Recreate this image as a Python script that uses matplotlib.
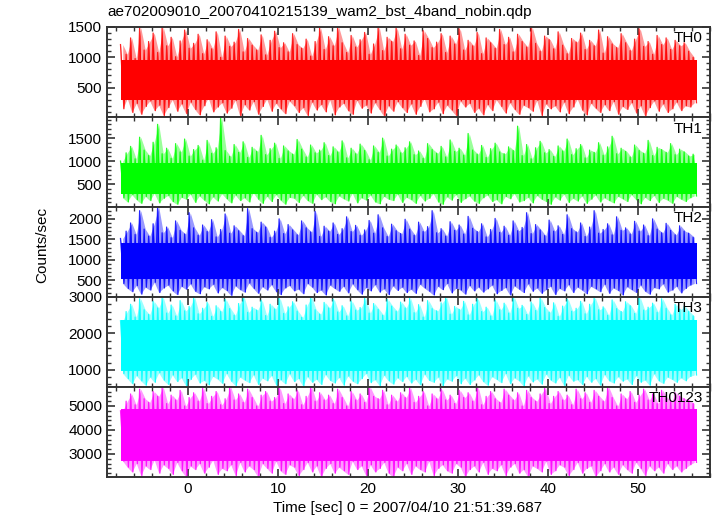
import numpy as np
from matplotlib import pyplot as plt
from matplotlib.ticker import MultipleLocator

plt.rcParams['font.family'] = ['Liberation Sans', 'DejaVu Sans']
plt.rcParams['font.size'] = 11

# half-second bins, centres from -7.25 to 56.25 s
t = np.arange(-7.25, 56.5, 0.5)

# peak (hi) and dip (lo) rate read per bin, counts/sec
th0_hi = [1210, 1050, 1320, 980, 1490, 1120, 1260, 1400, 1080, 1500, 1190, 1330, 1010, 1270, 1450, 1150,
          1230, 1380, 1060, 1290, 1140, 1420, 1000, 1350, 1180, 1250, 1460, 1090, 1310, 1200, 1120, 1370,
          1040, 1280, 1430, 1160, 1240, 1090, 1390, 1210, 1150, 1300, 1020, 1260, 1480, 1130, 1340, 1190,
          1500, 1240, 1080, 1360, 1170, 1290, 1410, 1050, 1220, 1500, 1110, 1330, 1260, 1480, 1140, 1380,
          1200, 1270, 1030, 1440, 1310, 1160, 1250, 1390, 1080, 1350, 1220, 1470, 1120, 1280, 1190, 1410,
          1060, 1320, 1240, 1150, 1460, 1210, 1330, 1090, 1380, 1260, 1170, 1500, 1230, 1100, 1350, 1290,
          1140, 1420, 1200, 1060, 1310, 1250, 1400, 1130, 1280, 1190, 1450, 1070, 1340, 1220, 1160, 1390,
          1240, 1110, 1300, 1470, 1180, 1260, 1050, 1360, 1210, 1320, 1130, 1280, 1190, 1240, 1100, 1000]
th0_lo = [150, 320, 90, 240, 60, 190, 280, 120, 210, 40, 170, 300, 110, 230, 70, 260,
          140, 50, 200, 330, 100, 180, 250, 80, 160, 290, 30, 220, 130, 270, 60, 190,
          310, 110, 240, 150, 70, 280, 200, 90, 170, 40, 260, 130, 220, 100, 300, 50,
          180, 240, 120, 60, 290, 160, 210, 80, 250, 140, 30, 200, 110, 270, 170, 90,
          230, 60, 190, 320, 100, 150, 260, 70, 210, 130, 40, 280, 180, 240, 90, 160,
          50, 220, 120, 300, 190, 80, 250, 140, 60, 210, 170, 110, 290, 40, 230, 150,
          200, 100, 260, 70, 180, 310, 130, 50, 240, 160, 90, 220, 120, 270, 60, 190,
          140, 250, 80, 200, 30, 170, 280, 110, 230, 90, 150, 260, 120, 200, 180, 250]

th1_hi = [1000, 1180, 1320, 1050, 1520, 1240, 1120, 1410, 1800, 1160, 1280, 1060, 1380, 1200, 1480, 1110,
          1250, 1340, 1020, 1450, 1170, 1290, 1950, 1230, 1100, 1360, 1190, 1420, 1080, 1300, 1210, 1560,
          1140, 1270, 1390, 1060, 1330, 1220, 1150, 1470, 1260, 1090, 1350, 1180, 1240, 1400, 1120, 1310,
          1200, 1440, 1070, 1280, 1160, 1370, 1230, 1030, 1330, 1190, 1500, 1110, 1260, 1350, 1180, 1290,
          1420, 1140, 1220, 1060, 1380, 1250, 1170, 1320, 1090, 1460, 1210, 1280, 1130, 1600, 1240, 1150,
          1340, 1080, 1270, 1390, 1200, 1160, 1310, 1230, 1760, 1120, 1360, 1050, 1290, 1430, 1180, 1250,
          1100, 1330, 1220, 1480, 1140, 1270, 1360, 1070, 1240, 1190, 1400, 1130, 1310, 1540, 1160, 1280,
          1210, 1090, 1350, 1230, 1170, 1450, 1120, 1300, 1250, 1190, 1380, 1140, 1260, 1200, 1110, 1150]
th1_lo = [200, 110, 270, 160, 80, 230, 140, 300, 90, 190, 250, 120, 60, 210, 170, 280,
          100, 240, 150, 70, 220, 130, 290, 180, 90, 260, 140, 200, 110, 310, 170, 80,
          230, 120, 270, 150, 60, 210, 190, 100, 250, 140, 80, 280, 160, 220, 120, 70,
          240, 180, 130, 300, 90, 200, 150, 260, 110, 70, 230, 170, 140, 280, 100, 210,
          160, 80, 250, 130, 190, 290, 110, 60, 220, 150, 270, 100, 180, 240, 130, 80,
          200, 260, 120, 160, 70, 230, 180, 290, 110, 140, 210, 90, 250, 170, 120, 60,
          220, 150, 280, 100, 190, 130, 240, 80, 170, 260, 110, 200, 140, 90, 230, 180,
          120, 270, 160, 70, 210, 140, 250, 100, 190, 150, 80, 230, 170, 120, 200, 240]

th2_hi = [1520, 1700, 1900, 1620, 2200, 1750, 1580, 1880, 2290, 1660, 1800, 1540, 1950, 1720, 1630, 2150,
          1780, 1600, 1850, 1690, 1980, 1560, 1740, 2120, 1650, 1830, 1710, 1590, 2250, 1760, 1670, 1920,
          1800, 1550, 1700, 2000, 1640, 1860, 1730, 1610, 1950, 1780, 1680, 2180, 1570, 1820, 1700, 1900,
          1620, 1760, 2050, 1690, 1840, 1600, 1730, 1960, 1650, 2100, 1780, 1570, 1870, 1710, 1640, 1990,
          1750, 1600, 1920, 1690, 1810, 2200, 1660, 1760, 1580, 1930, 1720, 1850, 1630, 2060, 1770, 1690,
          1880, 1560, 1740, 2010, 1670, 1820, 1600, 1950, 1710, 1790, 2150, 1640, 1860, 1730, 1590, 1970,
          1700, 1830, 1620, 2100, 1760, 1680, 1900, 1570, 1800, 2200, 1650, 1740, 1880, 1610, 2050, 1720,
          1780, 1630, 1940, 1700, 1850, 1590, 2000, 1750, 1660, 1890, 1720, 1610, 1830, 1700, 1650, 1550]
th2_lo = [420, 300, 220, 370, 160, 330, 260, 450, 200, 310, 380, 240, 150, 350, 280, 410,
          230, 170, 340, 290, 400, 190, 320, 250, 130, 360, 270, 210, 430, 300, 180, 340,
          260, 390, 220, 150, 310, 370, 240, 280, 170, 420, 330, 200, 260, 140, 380, 300,
          230, 350, 190, 410, 270, 160, 320, 240, 390, 210, 290, 150, 360, 250, 330, 200,
          280, 180, 400, 310, 230, 140, 350, 270, 420, 190, 300, 260, 160, 370, 240, 330,
          210, 290, 380, 170, 250, 320, 140, 360, 280, 200, 410, 230, 310, 180, 270, 350,
          150, 300, 240, 390, 200, 330, 260, 170, 350, 290, 220, 400, 180, 310, 250, 140,
          340, 270, 200, 380, 230, 160, 320, 290, 410, 210, 260, 350, 190, 300, 380, 420]

th3_hi = [2350, 2600, 2800, 2450, 2950, 2650, 2520, 2880, 2700, 3000, 2560, 2780, 2480, 2900, 2620, 2740,
          2990, 2540, 2690, 2850, 2470, 2760, 2600, 2930, 2680, 2500, 2820, 3000, 2580, 2720, 2640, 2910,
          2490, 2800, 2670, 2960, 2550, 2730, 2870, 2610, 2440, 2780, 3000, 2650, 2530, 2850, 2700, 2940,
          2590, 2760, 2480, 2890, 2640, 2710, 2980, 2560, 2820, 2660, 2500, 2930, 2750, 2610, 2860, 2700,
          2960, 2570, 2790, 2450, 2900, 2680, 2620, 2840, 2990, 2530, 2740, 2660, 2880, 2510, 2800, 2950,
          2600, 2720, 2480, 2910, 2650, 2830, 2560, 3000, 2690, 2770, 2520, 2860, 2630, 2970, 2710, 2580,
          2840, 2470, 2750, 2940, 2610, 2690, 2880, 2540, 2800, 2980, 2650, 2730, 2500, 2920, 2680, 2600,
          2870, 2760, 2550, 2990, 2640, 2720, 2830, 2580, 2950, 2690, 2510, 2800, 2660, 2740, 2600, 2480]
th3_lo = [900, 760, 620, 840, 700, 580, 800, 660, 920, 720, 600, 860, 680, 780, 560, 740,
          880, 640, 710, 590, 820, 750, 630, 900, 690, 570, 800, 720, 650, 860, 600, 770,
          700, 840, 580, 730, 620, 890, 680, 760, 560, 810, 660, 740, 600, 870, 710, 640,
          790, 580, 830, 690, 620, 760, 900, 650, 730, 570, 850, 700, 610, 780, 680, 820,
          640, 740, 590, 880, 710, 660, 800, 560, 750, 690, 840, 620, 770, 600, 720, 860,
          680, 580, 810, 740, 650, 900, 620, 780, 700, 560, 830, 670, 750, 610, 880, 720,
          640, 790, 570, 850, 690, 730, 600, 820, 660, 760, 580, 870, 700, 640, 810, 690,
          750, 600, 840, 660, 720, 580, 890, 700, 630, 800, 740, 660, 780, 700, 820, 860]

th0123_hi = [4800, 5200, 5500, 5050, 5700, 5300, 5150, 5600, 5400, 5790, 5100, 5450, 5250, 5650, 5000, 5350,
             5550, 5200, 5750, 5100, 5400, 5600, 5050, 5300, 5790, 5250, 5500, 5150, 5700, 5350, 5000, 5450,
             5600, 5200, 5350, 5750, 5100, 5500, 5300, 5650, 5050, 5400, 5790, 5200, 5550, 5250, 5450, 5100,
             5700, 5350, 5000, 5600, 5250, 5500, 5150, 5790, 5400, 5300, 5650, 5050, 5450, 5200, 5550, 5350,
             5750, 5150, 5400, 5600, 5000, 5500, 5300, 5700, 5250, 5450, 5100, 5650, 5350, 5550, 5200, 5790,
             5050, 5400, 5600, 5300, 5150, 5700, 5450, 5250, 5550, 5000, 5650, 5350, 5200, 5500, 5750, 5100,
             5400, 5600, 5250, 5450, 5050, 5700, 5300, 5550, 5150, 5650, 5400, 5200, 5790, 5350, 5000, 5500,
             5300, 5600, 5150, 5450, 5700, 5250, 5500, 5100, 5650, 5350, 5200, 5550, 5400, 5300, 5250, 5100]
th0123_lo = [2700, 2450, 2250, 2600, 2100, 2500, 2350, 2750, 2200, 2550, 2400, 2150, 2650, 2300, 2050, 2500,
             2350, 2600, 2200, 2450, 2750, 2150, 2400, 2300, 2550, 2100, 2650, 2250, 2500, 2350, 2050, 2600,
             2400, 2200, 2700, 2300, 2150, 2550, 2450, 2100, 2350, 2650, 2250, 2500, 2050, 2400, 2600, 2200,
             2450, 2300, 2150, 2700, 2350, 2500, 2100, 2550, 2250, 2400, 2650, 2200, 2050, 2450, 2300, 2600,
             2150, 2500, 2350, 2250, 2700, 2100, 2400, 2550, 2300, 2200, 2600, 2450, 2050, 2350, 2500, 2250,
             2650, 2150, 2400, 2300, 2550, 2100, 2450, 2600, 2200, 2350, 2050, 2500, 2400, 2250, 2700, 2150,
             2300, 2550, 2450, 2100, 2350, 2650, 2200, 2400, 2500, 2050, 2300, 2600, 2250, 2450, 2150, 2550,
             2350, 2200, 2650, 2400, 2100, 2500, 2300, 2450, 2200, 2600, 2350, 2500, 2250, 2400, 2550, 2650]

# dense core of each curve (lower, upper)
cores = [(300, 950), (280, 950), (520, 1420), (960, 2380), (2720, 4880)]

names = ['TH0', 'TH1', 'TH2', 'TH3', 'TH0123']
colors = ['#ff0000', '#00ff00', '#0000ff', '#00ffff', '#ff00ff']
his = [th0_hi, th1_hi, th2_hi, th3_hi, th0123_hi]
los = [th0_lo, th1_lo, th2_lo, th3_lo, th0123_lo]
ylims = [(15, 1500), (0, 1960), (90, 2290), (530, 3000), (2040, 5790)]
yticks = [[500, 1000, 1500], [500, 1000, 1500], [500, 1000, 1500, 2000],
          [1000, 2000, 3000], [3000, 4000, 5000]]
yminor = [100, 100, 100, 200, 200]

W, H = 717, 516
fig = plt.figure(figsize=(W / 100, H / 100), dpi=100)

left, right = 107, 710
top, ph = 27, 90

for i in range(5):
    y0 = top + ph * (i + 1)
    ax = fig.add_axes([left / W, 1 - y0 / H, (right - left) / W, ph / H])
    # light curve: peak and dip of each bin in turn
    xs = np.empty(2 * len(t))
    ys = np.empty(2 * len(t))
    xs[0::2] = t - 0.125
    xs[1::2] = t + 0.125
    ys[0::2] = his[i]
    ys[1::2] = los[i]
    xs[0] = -7.5
    xs[-1] = 56.5
    mid = 0.5 * (cores[i][0] + cores[i][1])
    ax.fill_between(t, los[i], his[i], color=colors[i], lw=0, alpha=0.4)
    ax.fill_between([-7.5, 56.5], cores[i][0], cores[i][1], color=colors[i], lw=0)
    ax.fill_between(xs, ys, mid, color=colors[i], lw=0, alpha=0.8)
    ax.plot(xs, ys, color=colors[i], lw=0.9, alpha=0.85)
    ax.set_xlim(-9.0, 58.0)
    ax.set_ylim(*ylims[i])
    ax.set_yticks(yticks[i])
    ax.yaxis.set_minor_locator(MultipleLocator(yminor[i]))
    ax.xaxis.set_major_locator(MultipleLocator(10))
    ax.xaxis.set_minor_locator(MultipleLocator(2))
    ax.tick_params(which='both', direction='in', top=True, right=True, colors='#333333',
                   labelcolor='black', labelsize=11)
    ax.tick_params(which='major', length=6, width=1.2)
    ax.tick_params(which='minor', length=3, width=1.0)
    for sp in ax.spines.values():
        sp.set_linewidth(1.4)
        sp.set_color('#333333')
    if i < 4:
        ax.tick_params(labelbottom=False)
    ax.text(0.988, 0.95, names[i], transform=ax.transAxes, ha='right', va='top',
            fontsize=11, zorder=5)

fig.text(left / W, 1 - 12 / H, 'ae702009010_20070410215139_wam2_bst_4band_nobin.qdp',
         ha='left', va='center', fontsize=11)
fig.text(42 / W, 1 - 245 / H, 'Counts/sec', rotation=90, ha='center', va='center',
         fontsize=11)
fig.text(408 / W, 1 - 508 / H, 'Time [sec] 0 = 2007/04/10 21:51:39.687',
         ha='center', va='center', fontsize=11)

fig.savefig('out.png', dpi=100)
